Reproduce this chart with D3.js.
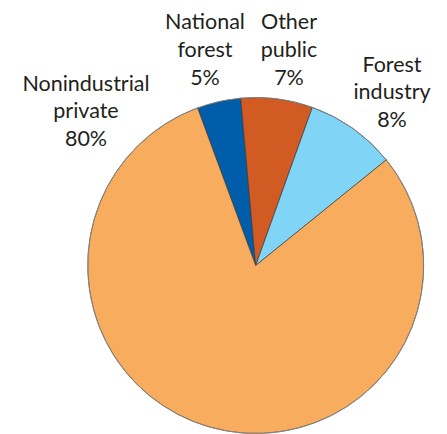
<!DOCTYPE html>
<html>
<head>
<meta charset="utf-8">
<script src="https://cdn.jsdelivr.net/npm/d3@7"></script>
<style>
  html, body { margin: 0; padding: 0; background: #fff; }
  svg { display: block; }
  text { font-family: Lato, "Open Sans", sans-serif; fill: #231F20; }
</style>
</head>
<body>
<svg id="chart" width="447" height="434"></svg>
<script>
// ---- data ----
const categories = ["National forest", "Other public", "Forest industry", "Nonindustrial private"];
const shares = [4.2, 6.9, 8.7, 80.2];           // slice sizes as drawn
const percentLabels = ["5%", "7%", "8%", "80%"]; // printed labels
const labelLines = [["National", "forest"], ["Other", "public"], ["Forest", "industry"], ["Nonindustrial", "private"]];
const colors = ["#005DAA", "#D25B24", "#80D4F6", "#F8AC5E"];

// ---- layout ----
const W = 447, H = 434;
const cx = 255.7, cy = 265.5, R = 168;
const startDeg = -20.25;
// label anchor (center x, first baseline y) in page coords
const labelPos = [[205, 29.3], [289, 29.3], [392, 71.7], [86, 90.7]];
const lineH = 27.6;

const svg = d3.select("#chart");
const g = svg.append("g").attr("transform", `translate(${cx},${cy})`);

const data = categories.map((c, i) => ({ name: c, value: shares[i], color: colors[i], pct: percentLabels[i], lines: labelLines[i], pos: labelPos[i] }));

const a0 = startDeg * Math.PI / 180;
const pie = d3.pie().sort(null).value(d => d.value).startAngle(a0).endAngle(a0 + 2 * Math.PI);
const arc = d3.arc().innerRadius(0).outerRadius(R);
const arcs = pie(data);

g.selectAll("path.slice").data(arcs).enter().append("path")
  .attr("class", "slice")
  .attr("d", arc)
  .attr("fill", d => d.data.color)
  .attr("stroke", "#3a3a3a")
  .attr("stroke-width", 0.7)
  .attr("stroke-linejoin", "round");

// outer rim
g.append("circle").attr("r", R).attr("fill", "none").attr("stroke", "#8a8a8a").attr("stroke-width", 0.8);

// labels
const lg = svg.append("g");
data.forEach(d => {
  const t = lg.append("text").attr("text-anchor", "middle").attr("font-size", 21.5);
  const lines = d.lines.concat([d.pct]);
  lines.forEach((s, i) => {
    t.append("tspan").attr("x", d.pos[0]).attr("y", d.pos[1] + i * lineH).text(s);
  });
});
</script>
</body>
</html>
